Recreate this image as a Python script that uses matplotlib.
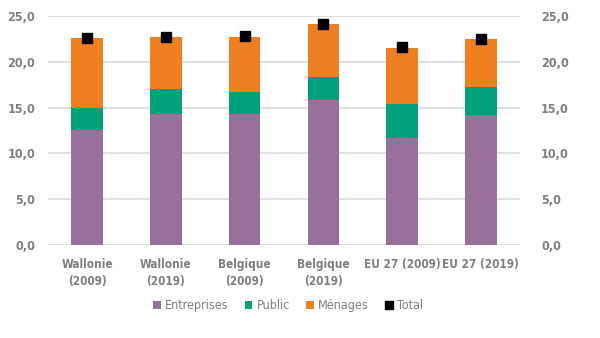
import matplotlib.pyplot as plt
import numpy as np

plt.rcParams['font.family'] = ['DejaVu Sans']
plt.rcParams['font.stretch'] = 'condensed'

categories = ['Wallonie\n(2009)', 'Wallonie\n(2019)', 'Belgique\n(2009)',
              'Belgique\n(2019)', 'EU 27 (2009)', 'EU 27 (2019)']
entreprises = [12.5, 14.3, 14.3, 15.8, 11.7, 14.2]
public = [2.4, 2.7, 2.4, 2.5, 3.7, 3.05]
menages = [7.7, 5.7, 6.0, 5.8, 6.1, 5.2]
total = [22.6, 22.7, 22.8, 24.1, 21.6, 22.5]

grey = '#7f7f7f'
x = np.arange(len(categories))
b1 = np.array(entreprises)
b2 = b1 + np.array(public)

fig = plt.figure(figsize=(6, 3.38), dpi=100)
ax = fig.add_axes([0.0795, 0.275, 0.7875, 0.678])

h1 = ax.bar(x, entreprises, 0.4, color='#98709a', label='Entreprises', zorder=2)
h2 = ax.bar(x, public, 0.4, bottom=b1, color='#00a07a', label='Public', zorder=2)
h3 = ax.bar(x, menages, 0.4, bottom=b2, color='#ee8022', label='Ménages', zorder=2)
h4, = ax.plot(x, total, 's', color='black', markersize=6.5, label='Total', zorder=3)

ax.set_xlim(-0.5, 5.5)
ax.set_ylim(0, 25)
yt = np.arange(0, 26, 5)
ylabels = [('%.1f' % v).replace('.', ',') for v in yt]
ax.set_yticks(yt)
ax.set_yticklabels(ylabels, color=grey, fontsize=9, fontweight='bold')
ax.set_xticks(x)
ax.set_xticklabels(categories, color=grey, fontsize=8.5, fontweight='bold', linespacing=1.4)
ax.tick_params(length=0, pad=9)
ax.yaxis.grid(True, color='#d9d9d9', linewidth=1.2, zorder=0)
for s in ax.spines.values():
    s.set_visible(False)

ax2 = ax.twinx()
ax2.set_ylim(0, 25)
ax2.set_yticks(yt)
ax2.set_yticklabels(ylabels, color=grey, fontsize=9, fontweight='bold')
ax2.tick_params(length=0, pad=15)
for s in ax2.spines.values():
    s.set_visible(False)

fig.legend([h1, h2, h3, h4], ['Entreprises', 'Public', 'Ménages', 'Total'],
           loc='center', bbox_to_anchor=(0.48, 0.095), ncol=4, frameon=False,
           handlelength=0.6, handleheight=0.6, handletextpad=0.35, columnspacing=1.3,
           prop={'size': 9, 'stretch': 'condensed'}, labelcolor=grey, markerscale=0.8)

fig.savefig('out.png', dpi=100)
